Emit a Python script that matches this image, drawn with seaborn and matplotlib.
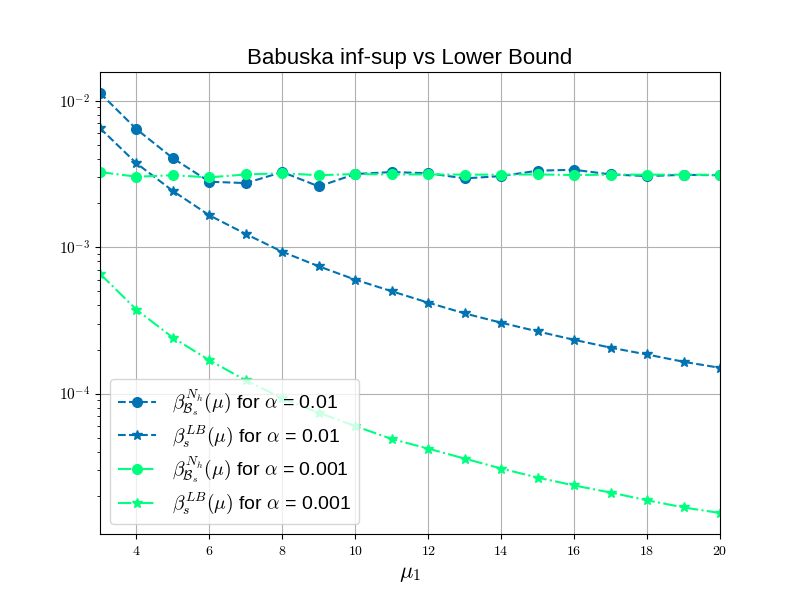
import matplotlib
matplotlib.use('Agg')
import math
import matplotlib.pyplot as plt
from matplotlib.ticker import FuncFormatter, MultipleLocator
import seaborn as sns
import pandas as pd

plt.rcParams['font.family'] = ['Liberation Sans', 'DejaVu Sans']
plt.rcParams['mathtext.fontset'] = 'cm'

mu = list(range(3, 21))

# Babuska inf-sup and lower bound, alpha = 0.01
beta_nh_001 = [1.13e-2, 6.4e-3, 4.05e-3, 2.8e-3, 2.74e-3, 3.26e-3, 2.6e-3, 3.16e-3, 3.26e-3,
               3.2e-3, 2.95e-3, 3.06e-3, 3.33e-3, 3.38e-3, 3.14e-3, 3.06e-3, 3.12e-3, 3.1e-3]
beta_lb_001 = [6.5e-3, 3.74e-3, 2.42e-3, 1.65e-3, 1.23e-3, 9.3e-4, 7.4e-4, 6.0e-4, 5.0e-4,
               4.18e-4, 3.53e-4, 3.05e-4, 2.66e-4, 2.33e-4, 2.06e-4, 1.85e-4, 1.65e-4, 1.5e-4]

# alpha = 0.001
beta_nh_0001 = [3.26e-3, 3.03e-3, 3.1e-3, 3.0e-3, 3.14e-3, 3.2e-3, 3.1e-3, 3.16e-3, 3.14e-3,
                3.14e-3, 3.13e-3, 3.13e-3, 3.14e-3, 3.11e-3, 3.13e-3, 3.13e-3, 3.13e-3, 3.12e-3]
beta_lb_0001 = [6.59e-4, 3.74e-4, 2.41e-4, 1.69e-4, 1.23e-4, 9.3e-5, 7.4e-5, 6.0e-5, 4.9e-5,
                4.21e-5, 3.6e-5, 3.08e-5, 2.67e-5, 2.36e-5, 2.11e-5, 1.87e-5, 1.67e-5, 1.53e-5]

blue = '#0173b2'
green = '#00ff7f'

series = [
    (beta_nh_001, r'$\beta^{N_h}_{\mathcal{B}_s}(\mu)$ for $\alpha$ = 0.01', blue, '--', 'o'),
    (beta_lb_001, r'$\beta^{LB}_{s}(\mu)$ for $\alpha$ = 0.01', blue, '--', '*'),
    (beta_nh_0001, r'$\beta^{N_h}_{\mathcal{B}_s}(\mu)$ for $\alpha$ = 0.001', green, '-.', 'o'),
    (beta_lb_0001, r'$\beta^{LB}_{s}(\mu)$ for $\alpha$ = 0.001', green, '-.', '*'),
]

fig, ax = plt.subplots(figsize=(8, 6), dpi=100)

for vals, label, color, ls, mk in series:
    df = pd.DataFrame({'mu': mu, 'beta': vals})
    sns.lineplot(data=df, x='mu', y='beta', ax=ax, label=label, color=color,
                 linestyle=ls, marker=mk, markersize=7, markeredgecolor=color,
                 markeredgewidth=1, linewidth=1.5)

ax.set_yscale('log')
ax.set_xlim(3, 20)
ax.xaxis.set_major_locator(MultipleLocator(2))
ax.xaxis.set_major_formatter(FuncFormatter(lambda v, p: r'$%d$' % v))
ax.yaxis.set_major_formatter(FuncFormatter(lambda v, p: r'$10^{%d}$' % round(math.log10(v))))
ax.tick_params(axis='x', labelsize=10)
ax.tick_params(axis='y', labelsize=11)
ax.grid(True, which='major', color='#b0b0b0', linewidth=0.8)

ax.set_title('Babuska inf-sup vs Lower Bound', fontsize=16)
ax.set_xlabel(r'$\mu_1$', fontsize=16)
ax.set_ylabel('')
ax.legend(loc='lower left', fontsize=14, labelspacing=0.3)

fig.savefig('out.png', dpi=100)
